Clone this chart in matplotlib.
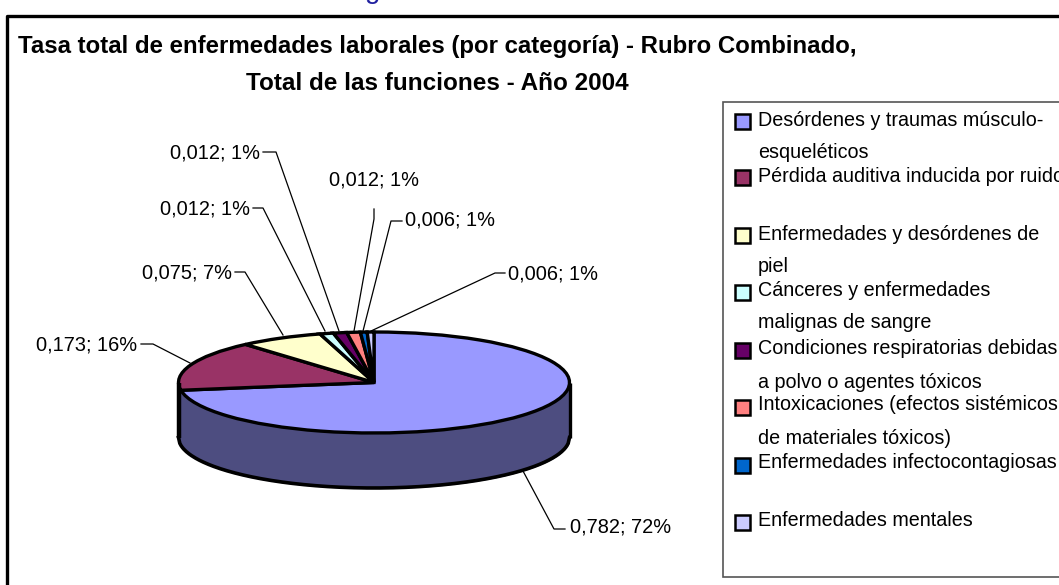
#!/usr/bin/env python3
import numpy as np
import matplotlib.pyplot as plt
from matplotlib.patches import Rectangle

plt.rcParams['font.family'] = ['Liberation Sans', 'DejaVu Sans']

W, H = 1059, 585

values = [0.782, 0.173, 0.075, 0.012, 0.012, 0.012, 0.006, 0.006]
value_text = ['0,782', '0,173', '0,075', '0,012', '0,012', '0,012', '0,006', '0,006']
percents = [72, 16, 7, 1, 1, 1, 1, 1]
colors = ['#9999FF', '#993366', '#FFFFCC', '#CCFFFF',
          '#660066', '#FF8080', '#0066CC', '#CCCCFF']
legend_lines = [
    ['Desórdenes y traumas músculo-', 'esqueléticos'],
    ['Pérdida auditiva inducida por ruido'],
    ['Enfermedades y desórdenes de', 'piel'],
    ['Cánceres y enfermedades', 'malignas de sangre'],
    ['Condiciones respiratorias debidas', 'a polvo o agentes tóxicos'],
    ['Intoxicaciones (efectos sistémicos', 'de materiales tóxicos)'],
    ['Enfermedades infectocontagiosas'],
    ['Enfermedades mentales'],
]
title_1 = 'Tasa total de enfermedades laborales (por categoría) - Rubro Combinado,'
title_2 = 'Total de las funciones - Año 2004'

fig = plt.figure(figsize=(W / 100, H / 100), dpi=100)
ax = fig.add_axes([0, 0, 1, 1])
ax.set_xlim(0, W)
ax.set_ylim(H, 0)
ax.axis('off')

# chart frame, runs off the right and bottom of the crop
ax.plot([6.5, 6.5, W + 5], [H + 5, 15.5, 15.5], color='k', lw=2.4, clip_on=False)
ax.text(373, -2, 'g', color='#2020A0', fontsize=20, ha='center', va='baseline')

ax.text(18, 46.5, title_1, fontsize=17.3, fontweight='bold', va='center')
ax.text(437, 84, title_2, fontsize=17.5, fontweight='bold', va='center', ha='center')

# pie: squashed axes so the wedges become an ellipse, wall below it
cx, cy, rx, ry, depth = 374, 382.5, 195.5, 50.5, 55
pie_ax = fig.add_axes([(cx - rx) / W, 1 - (cy + ry + depth) / H,
                       2 * rx / W, (2 * ry + depth) / H])
pie_ax.patch.set_alpha(0)
wedges, _ = pie_ax.pie(values, colors=colors, startangle=90, counterclock=False,
                       radius=1, wedgeprops=dict(edgecolor='k', linewidth=2.4))
pie_ax.set_aspect('auto')
pie_ax.set_xlim(-1, 1)
pie_ax.set_ylim(-1 - depth / ry, 1)
pie_ax.axis('off')
for w in wedges:
    w.set_clip_on(False)

xs = np.linspace(-1, 1, 300)
front = -np.sqrt(1 - xs ** 2)
pie_ax.fill_between(xs, front, front - depth / ry, color='#4D4D80', zorder=0)
pie_ax.plot(xs, front - depth / ry, color='k', lw=2.6, clip_on=False)
pie_ax.plot([-1, -1], [0, -depth / ry], color='k', lw=3.2, clip_on=False,
            solid_capstyle='butt')
pie_ax.plot([1, 1], [0, -depth / ry], color='k', lw=2.4, clip_on=False,
            solid_capstyle='butt')

# data labels and leader lines
label_pos = [(570, 527, 'left'), (137, 345, 'right'), (232, 273, 'right'),
             (250, 209, 'right'), (260, 153, 'right'), (374, 180, 'center'),
             (405, 220, 'left'), (508, 274, 'left')]
leaders = [
    [(523, 471), (554, 529), (565, 529)],
    [(190, 363), (153, 344), (141, 344)],
    [(283, 335), (245, 272), (235, 272)],
    [(325, 331), (263, 208), (253, 208)],
    [(339, 331), (276, 152), (263, 152)],
    [(354, 331), (374, 219), (374, 209)],
    [(363, 331), (391, 221), (402, 221)],
    [(371, 331), (495, 273), (505, 273)],
]
for txt, pct, (x, y, ha), pts in zip(value_text, percents, label_pos, leaders):
    ax.text(x, y, f'{txt}; {pct}%', fontsize=14.4, ha=ha, va='center')
    ax.plot(*zip(*pts), color='k', lw=0.9)

# legend
ax.add_patch(Rectangle((723, 102), W, 475, fc='w', ec='#555555', lw=1.2))
swatch_y = [121, 177, 235, 292, 350, 407, 465, 522]
line_y = [[120, 152], [177], [234, 266], [291, 323], [348, 382], [405, 438], [463], [520]]
for col, sy, lines, ys in zip(colors, swatch_y, legend_lines, line_y):
    ax.add_patch(Rectangle((734.5, sy - 7.5), 15, 15, fc=col, ec='k', lw=1.8))
    for line, y in zip(lines, ys):
        ax.text(758, y, line, fontsize=14.2, va='center')

fig.savefig('out.png', dpi=100)
